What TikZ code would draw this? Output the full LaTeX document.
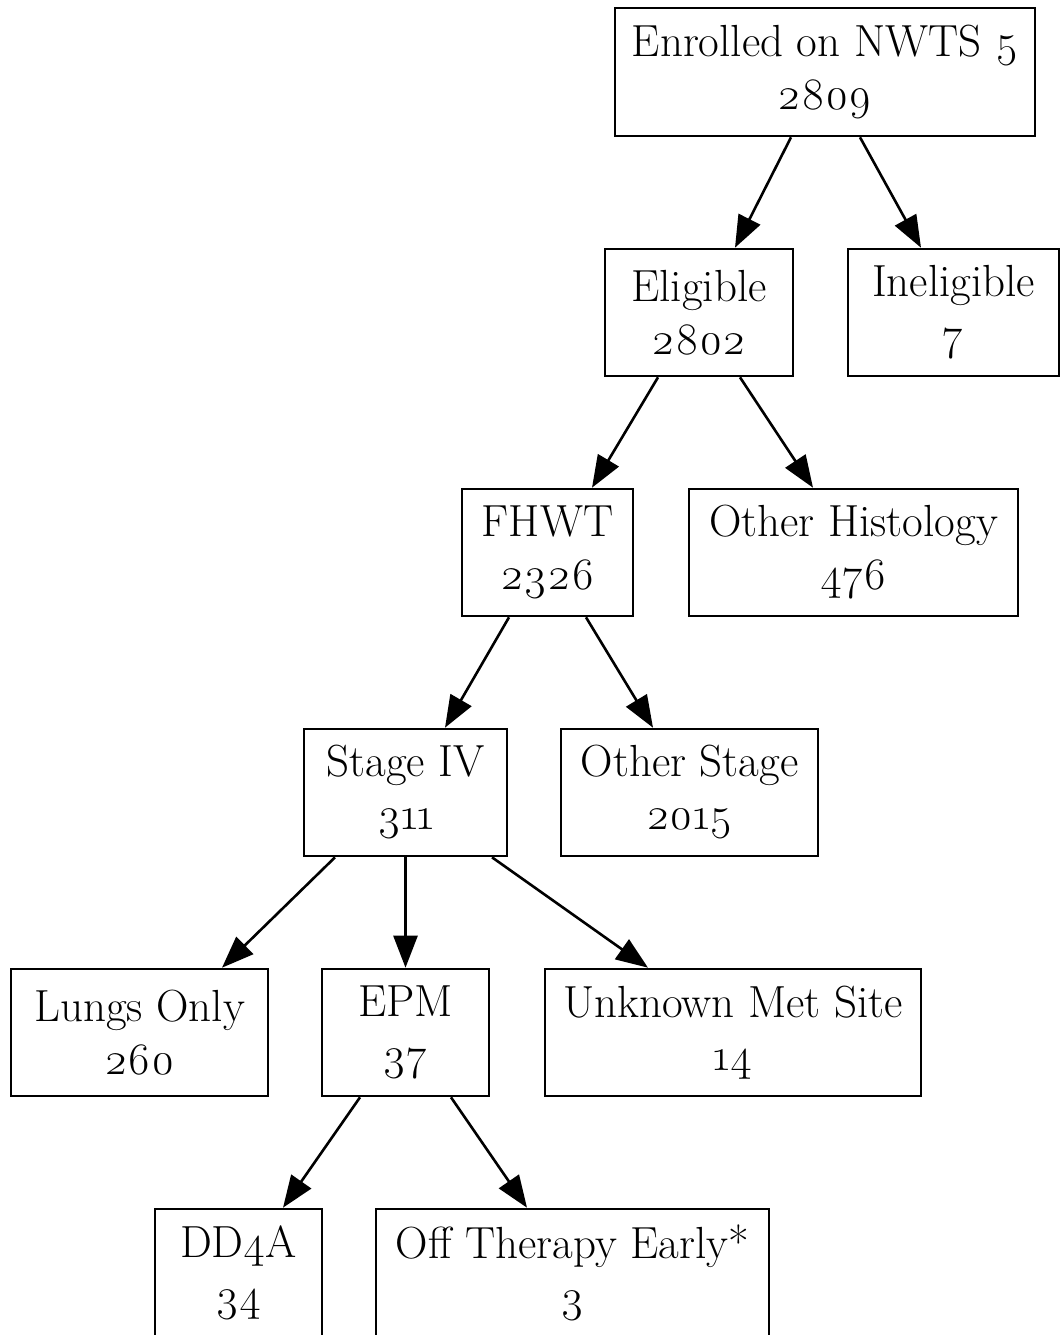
\documentclass[tikz,border=0pt]{standalone}
\usepackage{fontspec}
\setmainfont{Latin Modern Roman}[Numbers=OldStyle]
\usetikzlibrary{arrows.meta,calc}
\tikzset{
  box/.style={draw=black, line width=2.6pt, rectangle, align=center, inner sep=0pt,
    font=\fontsize{45}{53}\selectfont},
  edge/.style={line width=2.6pt, -{Triangle[length=32pt,width=24pt]}},
}
\begin{document}
\begin{tikzpicture}[x=1pt,y=1pt]
\useasboundingbox (0,0) rectangle (1060,-1335);
\node[box, minimum width=420, minimum height=128] (en) at (825,-72) {Enrolled on NWTS 5\\2809};
\node[box, minimum width=188, minimum height=127] (el) at (699,-312.5) {Eligible\\2802};
\node[box, minimum width=211, minimum height=127] (in) at (953.5,-312.5) {Ineligible\\7};
\node[box, minimum width=171, minimum height=127] (fh) at (547.5,-552.5) {FHWT\\2326};
\node[box, minimum width=329, minimum height=127] (oh) at (853.5,-552.5) {Other Histology\\476};
\node[box, minimum width=203, minimum height=127] (s4) at (405.5,-792.5) {Stage IV\\311};
\node[box, minimum width=257, minimum height=127] (os) at (689.5,-792.5) {Other Stage\\2015};
\node[box, minimum width=257, minimum height=127] (lu) at (139.5,-1032.5) {Lungs Only\\260};
\node[box, minimum width=167, minimum height=127] (ep) at (405.5,-1032.5) {EPM\\37};
\node[box, minimum width=376, minimum height=127] (un) at (733,-1032.5) {Unknown Met Site\\14};
\node[box, minimum width=167, minimum height=127] (dd) at (238.5,-1272.5) {DD4A\\34};
\node[box, minimum width=393, minimum height=127] (of) at (572.5,-1272.5) {Off Therapy Early*\\3};

\draw[edge] ([xshift=-34]en.south) -- ([xshift=36]el.north);
\draw[edge] ([xshift=35]en.south) -- ([xshift=-32.5]in.north);
\draw[edge] ([xshift=-41]el.south) -- ([xshift=44.5]fh.north);
\draw[edge] ([xshift=41]el.south) -- ([xshift=-40.5]oh.north);
\draw[edge] ([xshift=-38.5]fh.south) -- ([xshift=39.5]s4.north);
\draw[edge] ([xshift=38.5]fh.south) -- ([xshift=-36.5]os.north);
\draw[edge] ([xshift=-70.5]s4.south) -- ([xshift=82.5]lu.north);
\draw[edge] (s4.south) -- (ep.north);
\draw[edge] ([xshift=86.5]s4.south) -- ([xshift=-85]un.north);
\draw[edge] ([xshift=-45.5]ep.south) -- ([xshift=44.5]dd.north);
\draw[edge] ([xshift=45.5]ep.south) -- ([xshift=-45.5]of.north);
\end{tikzpicture}
\end{document}
